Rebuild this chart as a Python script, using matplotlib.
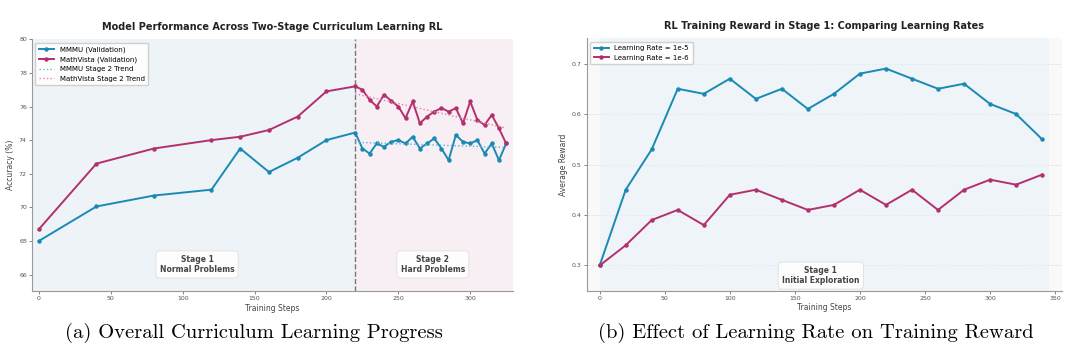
import numpy as np
import matplotlib
matplotlib.use("Agg")
import matplotlib.pyplot as plt

plt.rcParams["font.family"] = ["DejaVu Sans"]

# 左图: 两阶段课程学习
s1_steps = [0, 40, 80, 120, 140, 160, 180, 200, 220]
s2_steps = [220, 225, 230, 235, 240, 245, 250, 255, 260, 265, 270,
            275, 280, 285, 290, 295, 300, 305, 310, 315, 320, 325]
mmmu_s1 = [68.0, 70.05, 70.7, 71.05, 73.5, 72.1, 72.95, 74.0, 74.45]
mmmu_s2 = [74.45, 73.5, 73.2, 73.8, 73.6, 73.9, 74.0, 73.8, 74.2, 73.5, 73.8,
           74.1, 73.5, 72.8, 74.3, 73.9, 73.8, 74.0, 73.2, 73.8, 72.8, 73.8]
mv_s1 = [68.7, 72.6, 73.5, 74.0, 74.2, 74.6, 75.4, 76.9, 77.2]
mv_s2 = [77.2, 77.0, 76.4, 76.0, 76.7, 76.35, 76.0, 75.3, 76.3, 75.0, 75.4,
         75.7, 75.9, 75.7, 75.9, 75.0, 76.3, 75.2, 74.9, 75.5, 74.7, 73.8]

# 右图: 学习率对比
lr_steps = [0, 20, 40, 60, 80, 100, 120, 140, 160, 180, 200, 220, 240, 260, 280, 300, 320, 340]
reward_1e5 = [0.30, 0.45, 0.53, 0.65, 0.64, 0.67, 0.63, 0.65, 0.61, 0.64, 0.68, 0.69,
              0.67, 0.65, 0.66, 0.62, 0.60, 0.55]
reward_1e6 = [0.30, 0.34, 0.39, 0.41, 0.38, 0.44, 0.45, 0.43, 0.41, 0.42, 0.45, 0.42,
              0.45, 0.41, 0.45, 0.47, 0.46, 0.48]

blue = "#1a8ab4"
pink = "#b3306f"
txt = "#444444"

fig = plt.figure(figsize=(10.8, 3.55), dpi=100)
ax1 = fig.add_axes([0.0294, 0.1794, 0.4459, 0.7099])
ax2 = fig.add_axes([0.5432, 0.1811, 0.4398, 0.711])

box = dict(boxstyle="round,pad=0.5", fc="white", ec="#dddddd", lw=0.6, alpha=0.9)

# ---- 左图 ----
ax1.set_facecolor("#f9f9fa")
ax1.axvspan(-5, 220, color="#e8f1f6", alpha=0.7, lw=0)
ax1.axvspan(220, 330, color="#f7e9f1", alpha=0.6, lw=0)
ax1.axvline(220, color="#777777", ls="--", lw=1.0)

mmmu = mmmu_s1 + mmmu_s2[1:]
mv = mv_s1 + mv_s2[1:]
steps = s1_steps + s2_steps[1:]
ax1.plot(steps, mmmu, color=blue, lw=1.4, marker="o", ms=2.2, label="MMMU (Validation)")
ax1.plot(steps, mv, color=pink, lw=1.4, marker="o", ms=2.2, label="MathVista (Validation)")

fit_b = np.polyfit(s2_steps, mmmu_s2, 1)
fit_p = np.polyfit(s2_steps, mv_s2, 1)
xs = np.array(s2_steps)
ax1.plot(xs, np.polyval(fit_b, xs), color="#5ab4d6", ls=":", lw=1.0, label="MMMU Stage 2 Trend")
ax1.plot(xs, np.polyval(fit_p, xs), color="#de7fae", ls=":", lw=1.0, label="MathVista Stage 2 Trend")

ax1.set_xlim(-5, 330)
ax1.set_ylim(65, 80)
ax1.set_yticks([66, 68, 70, 72, 74, 76, 78, 80])
ax1.set_xticks([0, 50, 100, 150, 200, 250, 300])
ax1.set_title("Model Performance Across Two-Stage Curriculum Learning RL",
              fontsize=7, fontweight="bold", color="#222222", pad=7)
ax1.set_xlabel("Training Steps", fontsize=5.5, color=txt, labelpad=2)
ax1.set_ylabel("Accuracy (%)", fontsize=5.5, color=txt, labelpad=3)
ax1.text(110, 66.6, "Stage 1\nNormal Problems", ha="center", va="center",
         fontsize=5.5, fontweight="bold", color=txt, bbox=box)
ax1.text(274, 66.6, "Stage 2\nHard Problems", ha="center", va="center",
         fontsize=5.5, fontweight="bold", color=txt, bbox=box)
ax1.legend(loc="upper left", fontsize=5, frameon=True, framealpha=0.9,
           edgecolor="#cccccc", handlelength=2.2, borderpad=0.5, labelspacing=0.5)

# ---- 右图 ----
ax2.set_facecolor("#f9f9fa")
ax2.axvspan(0, 345, color="#e8f1f6", alpha=0.6, lw=0)
ax2.grid(axis="y", ls="--", lw=0.5, color="#dddddd")
ax2.set_axisbelow(True)
ax2.plot(lr_steps, reward_1e5, color=blue, lw=1.4, marker="o", ms=2.2, label="Learning Rate = 1e-5")
ax2.plot(lr_steps, reward_1e6, color=pink, lw=1.4, marker="o", ms=2.2, label="Learning Rate = 1e-6")
ax2.set_xlim(-10, 355)
ax2.set_ylim(0.25, 0.75)
ax2.set_xticks([0, 50, 100, 150, 200, 250, 300, 350])
ax2.set_yticks([0.3, 0.4, 0.5, 0.6, 0.7])
ax2.set_title("RL Training Reward in Stage 1: Comparing Learning Rates",
              fontsize=7, fontweight="bold", color="#222222", pad=7)
ax2.set_xlabel("Training Steps", fontsize=5.5, color=txt, labelpad=2)
ax2.set_ylabel("Average Reward", fontsize=5.5, color=txt, labelpad=3)
ax2.text(170, 0.28, "Stage 1\nInitial Exploration", ha="center", va="center",
         fontsize=5.5, fontweight="bold", color=txt, bbox=box)
ax2.legend(loc="upper left", fontsize=5, frameon=True, framealpha=0.9,
           edgecolor="#cccccc", handlelength=2.2, borderpad=0.5, labelspacing=0.5)

for ax in (ax1, ax2):
    for s in ("top", "right"):
        ax.spines[s].set_visible(False)
    for s in ("left", "bottom"):
        ax.spines[s].set_color("#999999")
        ax.spines[s].set_linewidth(0.8)
    ax.tick_params(labelsize=4.5, colors="#555555", length=2, width=0.5, pad=1.5)

# 图注
fig.text(0.235, 0.063, "(a) Overall Curriculum Learning Progress",
         ha="center", va="center", fontsize=14.8, family="cmr10")
fig.text(0.755, 0.063, "(b) Effect of Learning Rate on Training Reward",
         ha="center", va="center", fontsize=14.8, family="cmr10")

fig.savefig("out.png", dpi=100)
